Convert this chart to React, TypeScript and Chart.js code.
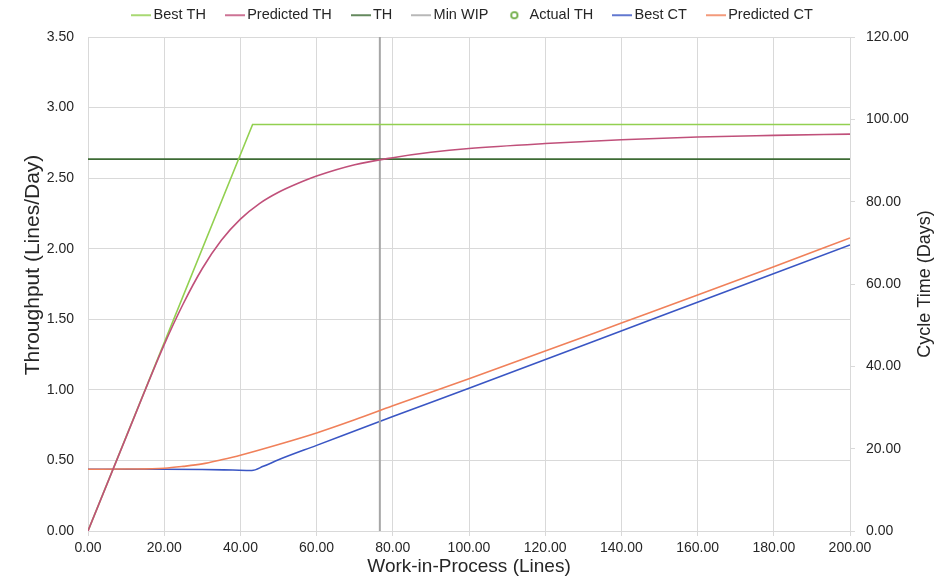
import { useEffect, useRef } from 'react';
import { Chart, registerables } from 'chart.js';

Chart.register(...registerables);

// ---- Data ----
const bestThWip = [0, 43.2, 200];
const bestThValues = [0, 2.88, 2.88];

const predThWip = [0, 10, 20, 25, 30, 35, 40, 45, 50, 55, 60, 70, 80, 90, 100, 120, 140, 160, 180, 200];
const predThValues = [0, 0.665, 1.32, 1.61, 1.86, 2.06, 2.21, 2.32, 2.4, 2.462, 2.515, 2.595, 2.645, 2.683, 2.71, 2.745, 2.772, 2.792, 2.803, 2.812];

const thWip = [0, 200];
const thValues = [2.635, 2.635];

const minWipWip = [76.6, 76.6];
const minWipValues = [0, 3.5];

const actualThWip: number[] = [];
const actualThValues: number[] = [];

const bestCtWip = [0, 20, 30, 38, 43, 46, 50, 60, 80, 100, 150, 200];
const bestCtValues = [15, 15, 14.95, 14.8, 14.7, 15.7, 17.3, 20.8, 27.8, 34.7, 52.1, 69.5];

const predCtWip = [0, 10, 20, 25, 30, 35, 40, 50, 60, 70, 80, 90, 100, 120, 140, 160, 180, 200];
const predCtValues = [15, 15.05, 15.25, 15.7, 16.3, 17.3, 18.4, 21.0, 23.8, 27.0, 30.4, 33.7, 37.0, 43.7, 50.5, 57.3, 64.2, 71.2];

const seriesLabels = ['Best TH', 'Predicted TH', 'TH', 'Min WIP', 'Actual TH', 'Best CT', 'Predicted CT'];
const seriesColors = ['#92d050', '#c0507a', '#3d6b35', '#a6a6a6', '#70ad47', '#3a56c4', '#f0805a'];

const xTitle = 'Work-in-Process (Lines)';
const yTitle = 'Throughput (Lines/Day)';
const y1Title = 'Cycle Time (Days)';

const FONT = "'Liberation Sans', Arial, Helvetica, sans-serif";
const TEXT = '#262626';
const GRID = '#d9d9d9';

const pts = (xs: number[], ys: number[]) => xs.map((x, i) => ({ x, y: ys[i] }));

function lineIcon(color: string) {
  const c = document.createElement('canvas');
  c.width = 20;
  c.height = 4;
  const g = c.getContext('2d')!;
  g.strokeStyle = color;
  g.lineWidth = 1.6;
  g.beginPath();
  g.moveTo(0, 2);
  g.lineTo(20, 2);
  g.stroke();
  return c;
}

function circleIcon(color: string) {
  const c = document.createElement('canvas');
  c.width = 20;
  c.height = 10;
  const g = c.getContext('2d')!;
  g.strokeStyle = color;
  g.fillStyle = '#ffffff';
  g.lineWidth = 1.8;
  g.beginPath();
  g.arc(7, 5, 3.2, 0, Math.PI * 2);
  g.fill();
  g.stroke();
  return c;
}

export default function App() {
  const ref = useRef<HTMLCanvasElement>(null);

  useEffect(() => {
    if (!ref.current) return;
    const icons = seriesColors.map((c, i) => (i === 4 ? circleIcon(c) : lineIcon(c)));

    const fixPlugin = {
      id: 'fixLayout',
      beforeLayout(chart: any) {
        const lg = chart.legend;
        if (lg && !lg.__patched) {
          const orig = lg.fit.bind(lg);
          lg.fit = function () {
            orig();
            this.height = 29;
          };
          lg.__patched = true;
        }
      },
      afterLayout(chart: any) {
        if (chart.legend) {
          chart.legend.top = -24;
          chart.legend.bottom = 29;
        }
      },
      afterDraw(chart: any) {
        const { ctx, chartArea } = chart;
        ctx.save();
        ctx.fillStyle = TEXT;
        ctx.textAlign = 'center';
        ctx.textBaseline = 'middle';
        // right axis title, reading bottom-to-top
        ctx.font = `18px ${FONT}`;
        ctx.translate(917, (chartArea.top + chartArea.bottom) / 2);
        ctx.rotate(-Math.PI / 2);
        ctx.fillText(y1Title, 0, 0);
        ctx.restore();
        // left axis title
        ctx.save();
        ctx.fillStyle = TEXT;
        ctx.textAlign = 'center';
        ctx.textBaseline = 'middle';
        ctx.font = `21px ${FONT}`;
        ctx.translate(25, 257);
        ctx.rotate(-Math.PI / 2);
        ctx.fillText(yTitle, 0, 0);
        ctx.restore();
      },
    };

    const base = { pointRadius: 0, borderWidth: 1.6, fill: false, cubicInterpolationMode: 'monotone' as const };

    const chart = new Chart(ref.current, {
      type: 'line',
      data: {
        datasets: [
          { ...base, label: seriesLabels[0], data: pts(bestThWip, bestThValues), borderColor: seriesColors[0], backgroundColor: seriesColors[0], yAxisID: 'y', order: 1, cubicInterpolationMode: 'default', tension: 0 },
          { ...base, label: seriesLabels[1], data: pts(predThWip, predThValues), borderColor: seriesColors[1], backgroundColor: seriesColors[1], yAxisID: 'y', order: 0 },
          { ...base, label: seriesLabels[2], data: pts(thWip, thValues), borderColor: seriesColors[2], backgroundColor: seriesColors[2], yAxisID: 'y', order: 1 },
          { ...base, label: seriesLabels[3], data: pts(minWipWip, minWipValues), borderColor: seriesColors[3], backgroundColor: seriesColors[3], borderWidth: 2, yAxisID: 'y', order: 1 },
          { label: seriesLabels[4], data: pts(actualThWip, actualThValues), showLine: false, pointStyle: 'circle', pointRadius: 4, borderColor: seriesColors[4], backgroundColor: '#ffffff', yAxisID: 'y', order: 1 },
          { ...base, label: seriesLabels[5], data: pts(bestCtWip, bestCtValues), borderColor: seriesColors[5], backgroundColor: seriesColors[5], yAxisID: 'y1', order: 1 },
          { ...base, label: seriesLabels[6], data: pts(predCtWip, predCtValues), borderColor: seriesColors[6], backgroundColor: seriesColors[6], yAxisID: 'y1', order: 0 },
        ],
      },
      options: {
        animation: false,
        responsive: true,
        maintainAspectRatio: false,
        layout: { padding: 0 },
        font: { family: FONT },
        plugins: {
          tooltip: { enabled: false },
          legend: {
            position: 'top',
            labels: {
              usePointStyle: true,
              pointStyleWidth: 10,
              padding: 24,
              color: TEXT,
              font: { family: FONT, size: 14.5 },
              generateLabels: (c: any) =>
                c.data.datasets.map((ds: any, i: number) => ({
                  text: ds.label,
                  pointStyle: icons[i],
                  fillStyle: 'rgba(0,0,0,0)',
                  strokeStyle: 'rgba(0,0,0,0)',
                  lineWidth: 0,
                  hidden: !c.isDatasetVisible(i),
                  datasetIndex: i,
                  fontColor: TEXT,
                })),
            },
          },
        },
        scales: {
          x: {
            type: 'linear',
            min: 0,
            max: 200,
            ticks: {
              stepSize: 20,
              autoSkip: false,
              maxRotation: 0,
              padding: 4,
              color: TEXT,
              font: { family: FONT, size: 14 },
              callback: (v: any) => Number(v).toFixed(2),
            },
            grid: { color: GRID, tickLength: 5 },
            border: { display: false },
            title: { display: true, text: xTitle, color: TEXT, font: { family: FONT, size: 19 }, padding: { top: 0, bottom: 5.6 } },
            afterFit: (s: any) => {
              s.height = 53;
            },
          },
          y: {
            type: 'linear',
            position: 'left',
            min: 0,
            max: 3.5,
            ticks: {
              stepSize: 0.5,
              padding: 14,
              color: TEXT,
              font: { family: FONT, size: 14 },
              callback: (v: any) => Number(v).toFixed(2),
            },
            grid: { color: GRID, drawTicks: false },
            border: { display: false },
            title: { display: false, text: yTitle },
            afterFit: (s: any) => {
              s.width = 80;
            },
          },
          y1: {
            type: 'linear',
            position: 'right',
            min: 0,
            max: 120,
            ticks: {
              stepSize: 20,
              padding: 11,
              color: TEXT,
              font: { family: FONT, size: 14 },
              callback: (v: any) => Number(v).toFixed(2),
            },
            grid: { color: GRID, drawOnChartArea: false, tickLength: 5 },
            border: { display: true, color: GRID },
            title: { display: false, text: y1Title },
            afterFit: (s: any) => {
              s.width = 91;
            },
          },
        },
      } as any,
      plugins: [fixPlugin],
    });

    return () => chart.destroy();
  }, []);

  return (
    <div style={{ position: 'relative', width: '933px', height: '576px', marginBottom: '-8px' }}>
      <canvas ref={ref} />
    </div>
  );
}
